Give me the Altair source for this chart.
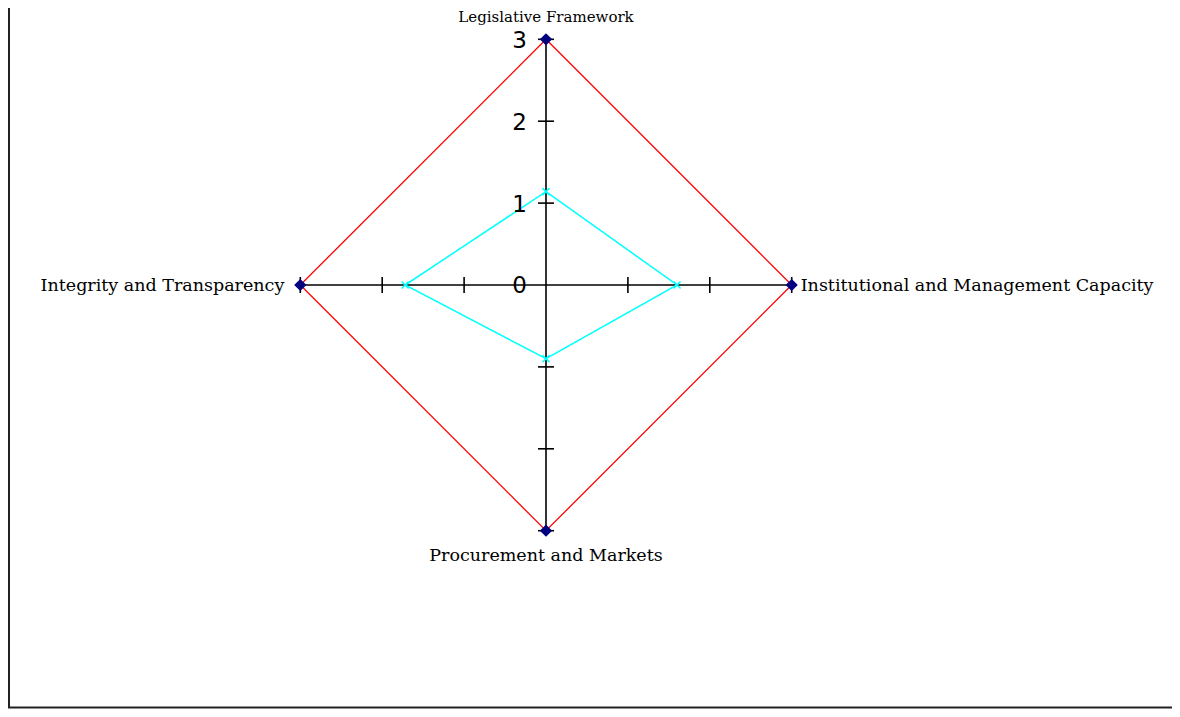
import altair as alt
import numpy as np
import pandas as pd

# ---- data ----
categories = [
    "Legislative Framework",
    "Institutional and Management Capacity",
    "Procurement and Markets",
    "Integrity and Transparency",
]
angles_deg = [90, 0, 270, 180]          # clockwise from the top spoke
target_scores = [3, 3, 3, 3]            # red polygon
actual_scores = [1.14, 1.6, 0.9, 1.72]  # cyan polygon
tick_values = [1, 2, 3]
scale_labels = ["0", "1", "2", "3"]
scale_max = 3

W, H = 1164, 701
CX, CY, R = 538.0, 277.0, 245.7  # centre and radius in view pixels

xscale = alt.Scale(domain=[-scale_max, scale_max], range=[CX - R, CX + R], nice=False, zero=False)
yscale = alt.Scale(domain=[-scale_max, scale_max], range=[CY + R, CY - R], nice=False, zero=False)


def polar(r, a):
    t = np.deg2rad(a)
    return np.round(r * np.cos(t), 6), np.round(r * np.sin(t), 6)


def series_frame(values, name):
    rows = []
    for i, (c, a, v) in enumerate(zip(categories + [categories[0]],
                                      angles_deg + [angles_deg[0]],
                                      values + [values[0]])):
        x, y = polar(v, a)
        rows.append({"category": c, "x": x, "y": y, "order": i, "series": name})
    return pd.DataFrame(rows)


target_df = series_frame(target_scores, "target")
actual_df = series_frame(actual_scores, "actual")

spokes = []
for c, a in zip(categories, angles_deg):
    x, y = polar(scale_max, a)
    spokes.append({"category": c, "x": 0.0, "y": 0.0, "x2": x, "y2": y})
spokes_df = pd.DataFrame(spokes)

vt, ht = [], []
for c, a in zip(categories, angles_deg):
    for t in tick_values:
        x, y = polar(t, a)
        (vt if a in (90, 270) else ht).append({"x": x, "y": y})
vticks_df = pd.DataFrame(vt)
hticks_df = pd.DataFrame(ht)

slabels_df = pd.DataFrame({"x": [0.0] * len(scale_labels),
                           "y": [float(s) for s in scale_labels],
                           "label": scale_labels})

X = lambda: alt.X("x:Q", scale=xscale, axis=None)
Y = lambda: alt.Y("y:Q", scale=yscale, axis=None)

frame = alt.Chart(pd.DataFrame({"k": [0]})).mark_rule(color="#222222", strokeWidth=2)
frame_left = frame.encode(x=alt.value(1), y=alt.value(0), y2=alt.value(H - 1))
frame_bottom = frame.encode(x=alt.value(0), x2=alt.value(W), y=alt.value(H - 1.5))

axes = alt.Chart(spokes_df).mark_rule(color="black", strokeWidth=1.6).encode(
    x=X(), y=Y(), x2="x2:Q", y2="y2:Q")

vticks = alt.Chart(vticks_df).mark_tick(orient="horizontal", size=16, thickness=1.6,
                                        color="black", opacity=1).encode(x=X(), y=Y())
hticks = alt.Chart(hticks_df).mark_tick(orient="vertical", size=16, thickness=1.6,
                                        color="black", opacity=1).encode(x=X(), y=Y())

red_line = alt.Chart(target_df).mark_line(color="#FF0000", strokeWidth=1.3).encode(
    x=X(), y=Y(), order="order:Q")
cyan_line = alt.Chart(actual_df).mark_line(color="#00FFFF", strokeWidth=1.5).encode(
    x=X(), y=Y(), order="order:Q")

diamonds = alt.Chart(target_df[target_df.order < len(categories)]).mark_point(
    shape="diamond", filled=True, size=150, color="#000080", opacity=1).encode(x=X(), y=Y())
crosses = alt.Chart(actual_df[actual_df.order < len(categories)]).mark_point(
    shape="M-1,-1L1,1M-1,1L1,-1", filled=False, size=49, color="#00FFFF",
    strokeWidth=1.5, opacity=1).encode(x=X(), y=Y())

num_labels = alt.Chart(slabels_df).mark_text(
    font="DejaVu Sans", fontSize=23, align="right", baseline="alphabetic",
    dx=-19, dy=8.4, color="black").encode(x=X(), y=Y(), text="label:N")

label_specs = [
    (categories[0], "center", 0, -17, 15),
    (categories[1], "left", 9, 6, 17.5),
    (categories[2], "center", 0, 30, 17.5),
    (categories[3], "right", -16, 6, 17.5),
]
cat_layers = []
for name, align, dx, dy, fs in label_specs:
    cat_layers.append(
        alt.Chart(target_df[(target_df.category == name) & (target_df.order < len(categories))])
        .mark_text(font="DejaVu Serif", fontSize=fs, align=align, baseline="alphabetic",
                   dx=dx, dy=dy, color="black")
        .encode(x=X(), y=Y(), text="category:N")
    )

chart = alt.layer(
    frame_left, frame_bottom, axes, vticks, hticks, red_line, cyan_line,
    diamonds, crosses, num_labels, *cat_layers
).properties(
    width=W, height=H, padding=0, autosize=alt.AutoSizeParams(type="none"),
    background="white"
).configure_view(stroke=None)

chart.save("out.html", embed_options={"renderer": "svg", "actions": False})
